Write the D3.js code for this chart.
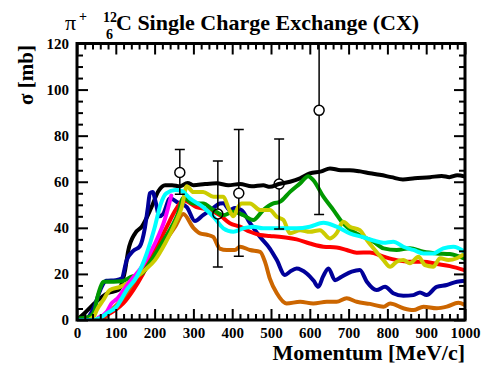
<!DOCTYPE html>
<html><head><meta charset="utf-8">
<script src="https://cdn.jsdelivr.net/npm/d3@7"></script>
<style>body{margin:0;background:#fff}svg{display:block}</style>
</head><body>
<script>
const xTicks = [0,100,200,300,400,500,600,700,800,900,1000];
const yTicks = [0,20,40,60,80,100,120];

const black = [[0,0],[20,3],[50,8],[80,11.7],[106,13],[124,21.7],[132,30],[150,37.7],[167,40.5],[192,49],[210,56],[227,58.5],[245,58.5],[265,58],[285,59.5],[300,58.5],[330,59],[360,59.3],[390,58.5],[420,59],[450,58],[480,58.5],[497,57.8],[520,59],[549,60],[575,61.5],[600,63.6],[630,64.5],[652,65.8],[680,65],[703,65],[730,64.5],[755,63.7],[780,63],[810,62],[840,61],[870,61.5],[910,62],[940,62.5],[960,62],[980,62.8],[1000,62.2]];
const navy = [[25,0],[45,6],[60,13],[75,17],[100,17.3],[115,18],[128,26],[145,30],[162,32],[175,40],[182,48],[188,55],[195,55.6],[203,51],[212,45],[222,46],[240,52.8],[260,51],[283,49],[304,43],[325,45.5],[351,48.5],[368,50.6],[377,50.7],[394,47.7],[407,48.6],[424,47.7],[446,42],[472,36],[497,31],[515,26],[536,19.5],[549,21],[566,22.4],[592,20.2],[610,17],[622,14.4],[634,18.8],[648,22.4],[665,17.3],[682,18.8],[708,21],[729,21.7],[747,16.6],[772,13],[794,14.4],[815,11.6],[841,10.5],[867,10.8],[884,11.9],[901,10.8],[927,14.4],[953,15.2],[979,16.6],[1000,17]];
const orange = [[60,0],[75,1.5],[89,4.3],[115,8.7],[141,14.4],[160,20],[175,24.6],[210,30.4],[235,36.1],[253,40.5],[274,46],[300,40],[317,37.6],[335,37],[351,36.1],[368,31],[386,30.4],[407,30.4],[420,31.8],[446,30.4],[472,29.6],[485,25],[497,18],[515,11.6],[540,7.2],[575,7.9],[609,7.2],[644,7.9],[669,7.9],[695,9.4],[721,7.9],[755,7],[790,5.8],[807,7.2],[841,5.1],[867,4.3],[893,5.8],[927,5.1],[953,5.8],[983,7.5],[1000,6.5]];
const red = [[50,0],[70,1.5],[85,2.9],[100,4.5],[119,7.2],[145,13],[170,20],[200,30],[230,40],[255,48],[274,52],[308,49],[343,47.7],[368,45.5],[394,42],[420,40.5],[446,38.3],[472,36.9],[497,36.5],[532,35.9],[566,35],[600,33.2],[635,31.8],[669,31.5],[695,30.4],[721,29.2],[755,29.3],[790,27.5],[824,26],[858,25.3],[893,25.3],[927,24.3],[961,23.4],[1000,21.5]];
const green = [[0,0.5],[33,1.4],[45,4],[51,8.7],[60,14],[68,16.6],[94,16.6],[115,16.8],[141,18.8],[167,20.2],[192,26],[218,33.2],[244,40.5],[260,46],[274,53],[300,50.6],[325,50.6],[352,47.7],[377,45.5],[403,47],[429,45.5],[454,43.4],[480,47.7],[506,50.6],[523,51.3],[549,55.6],[575,59.3],[596,62.4],[609,60.7],[635,53.5],[661,47.7],[686,41.9],[712,38.3],[738,36],[764,34],[790,31.1],[824,30.4],[858,31.1],[893,29.6],[927,28.9],[961,28.6],[1000,26.5]];
const yellow = [[30,0],[45,2],[51,4.3],[68,8.7],[85,13],[111,14.4],[140,17],[175,21.7],[201,26],[227,33.2],[253,42],[270,49],[283,58],[300,55.5],[325,55.6],[352,53.5],[377,53.5],[392,48],[403,45],[415,49],[424,50.6],[446,50.6],[472,47.7],[497,47.7],[515,44.8],[532,43.4],[549,37.6],[575,39],[600,38.3],[626,39],[652,35.4],[669,37.6],[686,42.6],[703,40.5],[729,39],[747,34.7],[764,31.1],[790,26],[807,23.1],[824,25.3],[841,26],[858,24.6],[880,27.5],[897,23.8],[918,23.1],[936,26.8],[957,26],[979,26.8],[1000,28.9]];
const magenta = [[55,1],[77,3.6],[89,7.2],[102,9],[132,15.9],[167,23.1],[201,33.2],[227,44],[243,54]];
const cyan = [[0,0],[42,0],[60,1],[77,2.9],[102,5.8],[128,13],[154,18.8],[180,29],[200,40],[215,50],[230,55],[253,56.4],[270,56],[291,52.8],[325,49],[352,44.8],[377,39.8],[403,38.3],[429,39.8],[454,40.5],[480,39.8],[506,39.8],[532,39.8],[566,39.8],[600,40.5],[635,42.2],[669,40.5],[703,37.6],[738,35.9],[764,34.5],[790,33.5],[815,34],[841,31.8],[867,30.4],[893,28.9],[918,28.9],[944,31.1],[970,31.8],[1000,29.5]];

const dataX = [265,363,417,521,624];
const dataY = [64,46,55,59,91];
const dataLo = [54.6,23,27.7,39.5,45.8];
const dataHi = [74,69,82.7,78.6,136];

const series = [
  {d: black, c: "#000000"},
  {d: navy, c: "#000099"},
  {d: orange, c: "#cc6600"},
  {d: red, c: "#ff0000"},
  {d: green, c: "#009900"},
  {d: yellow, c: "#cccc00"},
  {d: magenta, c: "#ff00ff"},
  {d: cyan, c: "#00ffff"}
];

const FONT = "'Liberation Serif', Tinos, 'Times New Roman', Times, 'Noto Serif', 'DejaVu Serif', FreeSerif, serif";
const W = 481, H = 366;
const L = 77, R = 465, T = 43.5, B = 320;
const x = d3.scaleLinear().domain([0,1000]).range([L,R]);
const y = d3.scaleLinear().domain([0,120]).range([B,T]);

const svg = d3.select("body").append("svg").attr("width",W).attr("height",H)
  .attr("font-family",FONT).attr("font-weight","bold");
svg.append("defs").append("clipPath").attr("id","clip")
  .append("rect").attr("x",L).attr("y",T).attr("width",R-L).attr("height",B-T);

const plot = svg.append("g").attr("clip-path","url(#clip)");
const line = d3.line().x(d=>x(d[0])).y(d=>y(d[1])).curve(d3.curveMonotoneX);
series.forEach(s=>{
  plot.append("path").attr("d",line(s.d)).attr("fill","none")
    .attr("stroke",s.c).attr("stroke-width",4).attr("stroke-linejoin","round").attr("stroke-linecap","round");
});

// data points
const pts = plot.append("g").attr("stroke","#000").attr("stroke-width",1.5).attr("fill","none");
dataX.forEach((xv,i)=>{
  const cx = x(xv);
  pts.append("line").attr("x1",cx).attr("x2",cx).attr("y1",y(dataLo[i])).attr("y2",y(dataY[i])+5);
  pts.append("line").attr("x1",cx).attr("x2",cx).attr("y1",y(dataY[i])-5).attr("y2",y(dataHi[i]));
  pts.append("line").attr("x1",cx-5).attr("x2",cx+5).attr("y1",y(dataLo[i])).attr("y2",y(dataLo[i]));
  pts.append("line").attr("x1",cx-5).attr("x2",cx+5).attr("y1",y(dataHi[i])).attr("y2",y(dataHi[i]));
  pts.append("circle").attr("cx",cx).attr("cy",y(dataY[i])).attr("r",5);
});

// axes with inward ticks
const fmt = d3.format("d");
const xMinor = d3.range(0,1001,20).filter(v=>v%100!==0);
const yMinor = d3.range(0,121,5).filter(v=>v%20!==0);
function styleAxis(g){
  g.attr("font-family",FONT).attr("font-weight","bold");
  g.select(".domain").remove();
  g.selectAll("line").attr("stroke","#000").attr("stroke-width",2);
  g.selectAll("text").attr("font-size",15).attr("fill","#000").style("font-family",FONT).style("font-weight","bold");
}

svg.append("g").attr("transform",`translate(0,${B})`)
  .call(d3.axisBottom(x).tickValues(xTicks).tickFormat(fmt).tickSizeInner(-11).tickSizeOuter(0).tickPadding(6))
  .call(styleAxis).call(g=>g.selectAll("text").attr("dy","0").attr("y",18));
svg.append("g").attr("transform",`translate(0,${B})`)
  .call(d3.axisBottom(x).tickValues(xMinor).tickFormat("").tickSizeInner(-6).tickSizeOuter(0)).call(styleAxis);
svg.append("g").attr("transform",`translate(0,${T})`)
  .call(d3.axisTop(x).tickValues(xTicks).tickFormat("").tickSizeInner(-11).tickSizeOuter(0)).call(styleAxis);
svg.append("g").attr("transform",`translate(0,${T})`)
  .call(d3.axisTop(x).tickValues(xMinor).tickFormat("").tickSizeInner(-6).tickSizeOuter(0)).call(styleAxis);

svg.append("g").attr("transform",`translate(${L},0)`)
  .call(d3.axisLeft(y).tickValues(yTicks).tickFormat(fmt).tickSizeInner(-11).tickSizeOuter(0).tickPadding(0))
  .call(styleAxis).call(g=>g.selectAll("text").attr("x",-8));
svg.append("g").attr("transform",`translate(${L},0)`)
  .call(d3.axisLeft(y).tickValues(yMinor).tickFormat("").tickSizeInner(-6).tickSizeOuter(0)).call(styleAxis);
svg.append("g").attr("transform",`translate(${R},0)`)
  .call(d3.axisRight(y).tickValues(yTicks).tickFormat("").tickSizeInner(-11).tickSizeOuter(0)).call(styleAxis);
svg.append("g").attr("transform",`translate(${R},0)`)
  .call(d3.axisRight(y).tickValues(yMinor).tickFormat("").tickSizeInner(-6).tickSizeOuter(0)).call(styleAxis);

// frame
svg.append("rect").attr("x",L).attr("y",T).attr("width",R-L).attr("height",B-T)
  .attr("fill","none").attr("stroke","#000").attr("stroke-width",3);

// title
const t = svg.append("g").attr("fill","#000");
function txt(g, xx, yy, size, s, w){
  return g.append("text").attr("x",xx).attr("y",yy).attr("font-size",size)
    .style("font-family",FONT).style("font-weight",w||"bold").text(s);
}
txt(t,65,30,22,"π","normal");
txt(t,79,21,14,"+");
txt(t,103,22,14,"12");
txt(t,106,39,14,"6");
txt(t,116,30,22,"C Single Charge Exchange (CX)");

// axis labels
txt(svg,R,360,22,"Momentum [MeV/c]").attr("text-anchor","end");
svg.append("text").attr("transform","translate(33,75) rotate(-90)").attr("text-anchor","middle")
  .attr("font-size",21).style("font-family",FONT).style("font-weight","bold").text("σ [mb]");
</script>
</body></html>
